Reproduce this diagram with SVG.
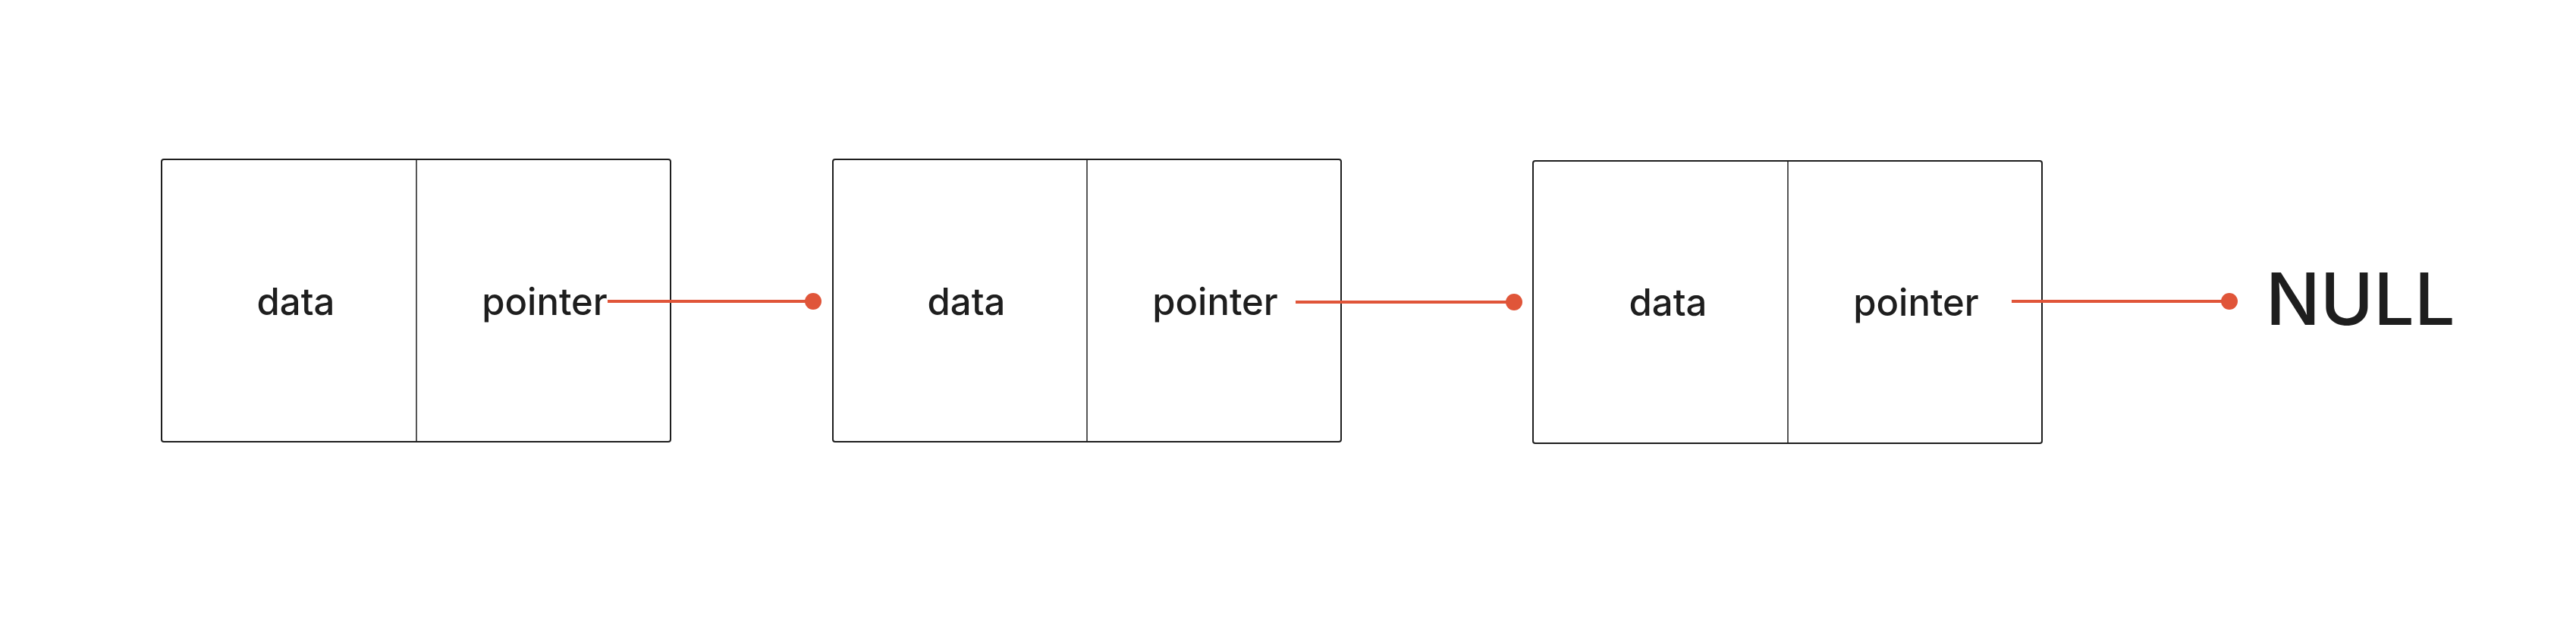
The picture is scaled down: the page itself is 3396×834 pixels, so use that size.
<svg xmlns="http://www.w3.org/2000/svg" width="3396" height="834" viewBox="0 0 3396 834">
<style>
.box{fill:none;stroke:#1e1e1e;stroke-width:2}
.div{stroke:#1e1e1e;stroke-width:1.5}
.lbl{font-family:Inter,"Liberation Sans",sans-serif;font-size:49px;font-weight:500;fill:#1e1e1e;text-anchor:middle}
.null{font-family:Inter,"Liberation Sans",sans-serif;font-size:95px;font-weight:500;fill:#1e1e1e}
.conn{stroke:#e05539;stroke-width:4;fill:none}
.dot{fill:#e05539}
</style>
<rect width="3396" height="834" fill="#ffffff"/>
<g id="node1">
<rect class="box" x="213" y="210" width="671" height="372" rx="3"/>
<line class="div" x1="549" y1="210" x2="549" y2="582"/>
<text class="lbl" x="390" y="415">data</text>
<text class="lbl" x="718" y="415">pointer</text>
</g>
<g id="node2">
<rect class="box" x="1098" y="210" width="670" height="372" rx="3"/>
<line class="div" x1="1433" y1="210" x2="1433" y2="582"/>
<text class="lbl" x="1274" y="415">data</text>
<text class="lbl" x="1602" y="415">pointer</text>
</g>
<g id="node3">
<rect class="box" x="2021" y="212" width="671" height="372" rx="3"/>
<line class="div" x1="2357" y1="212" x2="2357" y2="584"/>
<text class="lbl" x="2199" y="416">data</text>
<text class="lbl" x="2526" y="416">pointer</text>
</g>
<g id="null">
<text class="null" x="2987" y="428">NULL</text>
</g>
<g id="connectors">
<line class="conn" x1="801" y1="397" x2="1072" y2="397"/>
<circle class="dot" cx="1072" cy="397" r="11"/>
<line class="conn" x1="1708" y1="398" x2="1996" y2="398"/>
<circle class="dot" cx="1996" cy="398" r="11"/>
<line class="conn" x1="2652" y1="397" x2="2939" y2="397"/>
<circle class="dot" cx="2939" cy="397" r="11"/>
</g>
</svg>
